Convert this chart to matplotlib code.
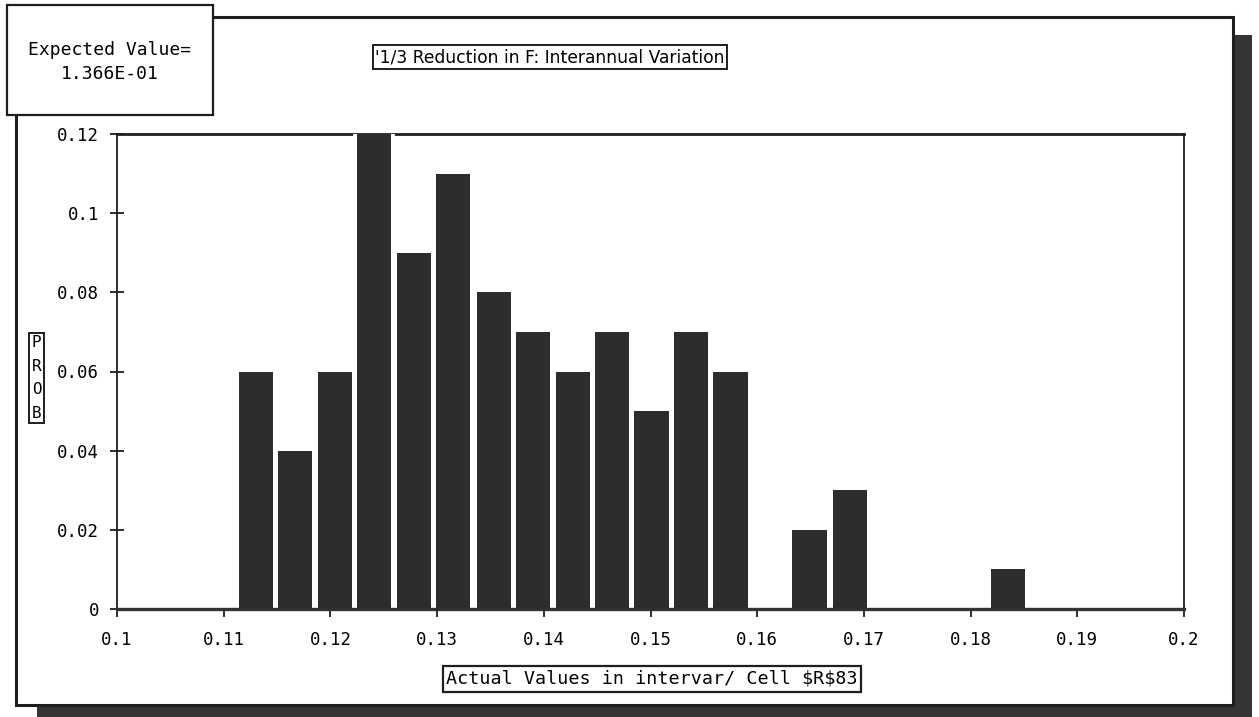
"""
Probability histogram: 1/3 Reduction in F, interannual variation
"""

import matplotlib
matplotlib.use("Agg")
import matplotlib.pyplot as plt
from matplotlib.patches import Rectangle

W, H = 1259, 717
MONO = "DejaVu Sans Mono"
NARROW = ["Liberation Sans Narrow", "DejaVu Sans"]
BAR_COLOR = "#2d2d2d"
LINE_COLOR = "#1e1e1e"

# bin centres (actual values) and probabilities
bin_centers = [0.1130, 0.1167, 0.1204, 0.1241, 0.1278, 0.1315, 0.1353,
               0.1390, 0.1427, 0.1464, 0.1501, 0.1538, 0.1575, 0.1612,
               0.1649, 0.1687, 0.1724, 0.1761, 0.1798, 0.1835]
probs = [0.06, 0.04, 0.06, 0.12, 0.09, 0.11, 0.08, 0.07, 0.06, 0.07,
         0.05, 0.07, 0.06, 0.00, 0.02, 0.03, 0.00, 0.00, 0.00, 0.01]

x_ticks = [0.1, 0.11, 0.12, 0.13, 0.14, 0.15, 0.16, 0.17, 0.18, 0.19, 0.2]
x_tick_labels = ["0.1", "0.11", "0.12", "0.13", "0.14", "0.15", "0.16",
                 "0.17", "0.18", "0.19", "0.2"]
y_ticks = [0, 0.02, 0.04, 0.06, 0.08, 0.1, 0.12]
y_tick_labels = ["0", "0.02", "0.04", "0.06", "0.08", "0.1", "0.12"]

title = "'1/3 Reduction in F: Interannual Variation"
x_label = "Actual Values in intervar/ Cell $R$83"
expected_value = "1.366E-01"


def px_rect(x0, y0, x1, y1, **kw):
    """Rectangle given in pixel coords (origin top-left) -> figure fraction."""
    return Rectangle((x0 / W, 1 - y1 / H), (x1 - x0) / W, (y1 - y0) / H,
                     transform=fig.transFigure, **kw)


fig = plt.figure(figsize=(W / 100, H / 100), dpi=100)
fig.patch.set_facecolor("white")

# outer frame with drop shadow
fig.add_artist(px_rect(1233, 35, 1252, 717, facecolor="#353535", edgecolor="none"))
fig.add_artist(px_rect(37, 705, 1252, 717, facecolor="#353535", edgecolor="none"))
fig.add_artist(px_rect(16, 17, 1233, 705, facecolor="none", edgecolor=LINE_COLOR,
                       linewidth=2.2))

ax = fig.add_axes([117 / W, 1 - 609 / H, (1184 - 117) / W, (609 - 134) / H])
ax.set_facecolor("none")

# white halo around bars (cuts the top frame line like the original)
ax.bar(bin_centers, probs, width=0.0032, color="white", edgecolor="white",
       linewidth=5.5, zorder=3)
ax.spines["bottom"].set_zorder(3.05)
ax.bar(bin_centers, probs, width=0.0032, color=BAR_COLOR, edgecolor="none",
       zorder=3.1)

ax.set_xlim(0.1, 0.2)
ax.set_ylim(0, 0.12)
ax.set_xticks(x_ticks)
ax.set_xticklabels(x_tick_labels, fontfamily=MONO, fontsize=12.5)
ax.set_yticks(y_ticks)
ax.set_yticklabels(y_tick_labels, fontfamily=MONO, fontsize=12.5)
ax.tick_params(axis="x", direction="out", length=6, width=1.3, pad=10,
               color=LINE_COLOR)
ax.tick_params(axis="y", direction="inout", length=10, width=1.3, pad=8,
               color=LINE_COLOR)

for side in ["left", "right"]:
    ax.spines[side].set_linewidth(1.3)
    ax.spines[side].set_color(LINE_COLOR)
ax.spines["top"].set_linewidth(2.0)
ax.spines["top"].set_color(LINE_COLOR)
ax.spines["bottom"].set_linewidth(2.4)
ax.spines["bottom"].set_color("#333333")

# title box
fig.text(550 / W, 1 - 57 / H, title, fontfamily=NARROW, fontsize=12.3,
         ha="center", va="center",
         bbox=dict(boxstyle="square,pad=0.15", facecolor="white",
                   edgecolor=LINE_COLOR, linewidth=1.4))

# x label box
fig.text(652 / W, 1 - 679 / H, x_label, fontfamily=MONO, fontsize=13.2,
         ha="center", va="center", parse_math=False,
         bbox=dict(boxstyle="square,pad=0.2", facecolor="white",
                   edgecolor=LINE_COLOR, linewidth=1.6))

# stacked y label
fig.text(36.5 / W, 1 - 378 / H, "P\nR\nO\nB", fontfamily=MONO, fontsize=11.5,
         ha="center", va="center", linespacing=1.7,
         bbox=dict(boxstyle="square,pad=0.15", facecolor="white",
                   edgecolor=LINE_COLOR, linewidth=1.4))

# expected value box over the frame corner
fig.add_artist(px_rect(7, 5, 213, 115, facecolor="white", edgecolor=LINE_COLOR,
                       linewidth=1.6))
fig.text(110 / W, 1 - 50 / H, "Expected Value=", fontfamily=MONO, fontsize=13,
         ha="center", va="center")
fig.text(110 / W, 1 - 74 / H, expected_value, fontfamily=MONO, fontsize=13,
         ha="center", va="center")

fig.savefig("out.png", dpi=100)
